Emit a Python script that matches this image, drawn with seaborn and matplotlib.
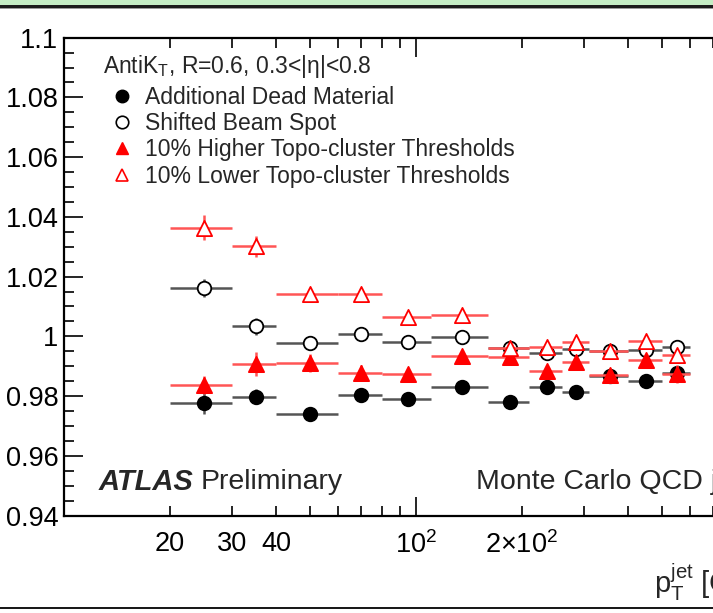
import matplotlib
matplotlib.use("Agg")
import matplotlib.pyplot as plt
import numpy as np
import pandas as pd
import seaborn as sns
from matplotlib.lines import Line2D
from matplotlib.patches import Rectangle
from matplotlib.ticker import FixedLocator, FixedFormatter

sns.set_theme(style="ticks")
plt.rcParams['font.family'] = ['Liberation Sans', 'DejaVu Sans']
plt.rcParams['mathtext.fontset'] = 'custom'
plt.rcParams['mathtext.rm'] = 'Liberation Sans'
plt.rcParams['mathtext.it'] = 'Liberation Sans:italic'
plt.rcParams['mathtext.bf'] = 'Liberation Sans:bold'

# jet pT bins [GeV]
bin_edges = [20, 30, 40, 60, 80, 110, 160, 210, 260, 310, 400, 500, 600]
pt_centers = [25, 35, 50, 70, 95, 135, 185, 235, 285, 355, 450, 550]

# response ratio for each systematic variation
dead_material = [0.9777, 0.9797, 0.9741, 0.9805, 0.9789, 0.9830, 0.9779, 0.9829, 0.9814, 0.9868, 0.9851, 0.9876]
dead_err = [0.0037, 0.0025, 0.0020, 0.0018, 0.0015, 0.0015, 0.0012, 0.0015, 0.0012, 0.0012, 0.0012, 0.0015]
beam_spot = [1.0163, 1.0033, 0.9979, 1.0009, 0.9980, 0.9997, 0.9962, 0.9945, 0.9957, 0.9952, 0.9953, 0.9963]
beam_err = [0.0030, 0.0030, 0.0015, 0.0012, 0.0012, 0.0012, 0.0012, 0.0015, 0.0015, 0.0012, 0.0012, 0.0012]
higher_topo = [0.9838, 0.9906, 0.9912, 0.9878, 0.9874, 0.9935, 0.9930, 0.9885, 0.9915, 0.9871, 0.9921, 0.9873]
higher_err = [0.0030, 0.0040, 0.0030, 0.0025, 0.0015, 0.0015, 0.0015, 0.0015, 0.0015, 0.0015, 0.0015, 0.0030]
lower_topo = [1.0364, 1.0301, 1.0141, 1.0143, 1.0064, 1.0071, 0.9962, 0.9965, 0.9982, 0.9952, 0.9986, 0.9938]
lower_err = [0.0042, 0.0034, 0.0015, 0.0015, 0.0012, 0.0012, 0.0015, 0.0015, 0.0015, 0.0012, 0.0015, 0.0015]

labels = ["Additional Dead Material", "Shifted Beam Spot",
          "10% Higher Topo-cluster Thresholds", "10% Lower Topo-cluster Thresholds"]

W, H = 713, 613


def fx(px):
    return px / W


def fy(py):
    return 1 - py / H


fig = plt.figure(figsize=(W / 100, H / 100), dpi=100)
# axes run from pT=10 to pT=1000; right part falls outside the crop
ax = fig.add_axes([fx(64), fy(515.5), fx(768) - fx(64), fy(37.7) - fy(515.5)])

lo = np.array(bin_edges[:-1])
hi = np.array(bin_edges[1:])
xc = np.array(pt_centers)

series = [
    (dead_material, dead_err, 'o', 'black', 'black', '#555555', 95),
    (beam_spot, beam_err, 'o', 'black', 'white', '#555555', 95),
    (higher_topo, higher_err, '^', 'red', 'red', '#ff5555', 120),
    (lower_topo, lower_err, '^', 'red', 'white', '#ff5555', 120),
]

for i, (vals, errs, mk, ec, fc, lc, s) in enumerate(series):
    ax.errorbar(xc, vals, xerr=[xc - lo, hi - xc], yerr=errs, fmt='none',
                ecolor=lc, elinewidth=1.8, capsize=0, zorder=2 + 2 * i)
    df = pd.DataFrame({"pt": xc, "ratio": vals})
    sns.scatterplot(data=df, x="pt", y="ratio", marker=mk, s=s, color=ec,
                    facecolor=fc, edgecolor=ec, linewidth=1.3, ax=ax,
                    zorder=3 + 2 * i, legend=False)

ax.set_xscale('log')
ax.set_xlim(10, 1000)
ax.set_ylim(0.94, 1.1)
ax.set_xlabel("")
ax.set_ylabel("")

# x ticks, ROOT style
ax.xaxis.set_major_locator(FixedLocator([100, 1000]))
ax.xaxis.set_major_formatter(FixedFormatter([r"$10^{2}$", r"$10^{3}$"]))
minor_pos = [20, 30, 40, 50, 60, 70, 80, 90, 200, 300, 400, 500, 600, 700, 800, 900]
minor_lab = ["20", "30", "40", "", "", "", "", "", r"$2{\times}10^{2}$", "", "", "", "", "", "", ""]
ax.xaxis.set_minor_locator(FixedLocator(minor_pos))
ax.xaxis.set_minor_formatter(FixedFormatter(minor_lab))

ax.yaxis.set_major_locator(FixedLocator(np.arange(0.94, 1.1001, 0.02)))
ax.yaxis.set_major_formatter(FixedFormatter(["0.94", "0.96", "0.98", "1", "1.02", "1.04", "1.06", "1.08", "1.1"]))
ax.yaxis.set_minor_locator(FixedLocator(np.arange(0.94, 1.1001, 0.005)))

ax.tick_params(which='both', direction='in', top=True, right=True, colors='black',
               width=1.2, labelsize=19.5)
ax.tick_params(which='major', length=14)
ax.tick_params(which='minor', length=7)
ax.tick_params(axis='x', which='both', pad=11)
ax.tick_params(axis='y', which='both', pad=4)
for sp in ax.spines.values():
    sp.set_linewidth(1.6)
    sp.set_color('black')

# legend
handles = [
    Line2D([], [], marker='o', ls='none', color='black', mfc='black', ms=9),
    Line2D([], [], marker='o', ls='none', color='black', mfc='white', ms=9, mew=1.2),
    Line2D([], [], marker='^', ls='none', color='red', mfc='red', ms=9),
    Line2D([], [], marker='^', ls='none', color='red', mfc='white', ms=9, mew=1.2),
]
fig.legend(handles, labels, loc='upper left', bbox_to_anchor=(fx(110.5), fy(86)),
           frameon=False, fontsize=16.5, handlelength=1.0, handletextpad=0.5,
           labelspacing=0.14, borderpad=0, borderaxespad=0)

fig.text(fx(103), fy(67), r"AntiK$_{\mathrm{T}}$, R=0.6, 0.3<|η|<0.8",
         fontsize=16.5, va='center', ha='left')
fig.text(fx(99), fy(482), "ATLAS", fontsize=21, fontweight='bold',
         fontstyle='italic', va='center', ha='left')
fig.text(fx(201), fy(482), "Preliminary", fontsize=20.5, va='center', ha='left')
fig.text(fx(476), fy(482), "Monte Carlo QCD jets", fontsize=20.5, va='center', ha='left')
fig.text(fx(775), fy(582), r"$\mathrm{p}_{\mathrm{T}}^{\mathrm{jet}}$ [GeV]",
         fontsize=21, va='center', ha='right')

# window frame bits of the original screenshot
fig.add_artist(Rectangle((0, fy(5.5)), 1, 5.5 / H, transform=fig.transFigure,
                         color='#c4ecc4', lw=0))
fig.add_artist(Rectangle((0, fy(7.5)), 1, 2 / H, transform=fig.transFigure,
                         color='#1a1a1a', lw=0))
fig.add_artist(Rectangle((0, fy(9)), 1, 1.5 / H, transform=fig.transFigure,
                         color='#999999', lw=0))
fig.add_artist(Rectangle((0, fy(609)), 1, 2.5 / H, transform=fig.transFigure,
                         color='#1a1a1a', lw=0))

fig.savefig("out.png", dpi=100)
